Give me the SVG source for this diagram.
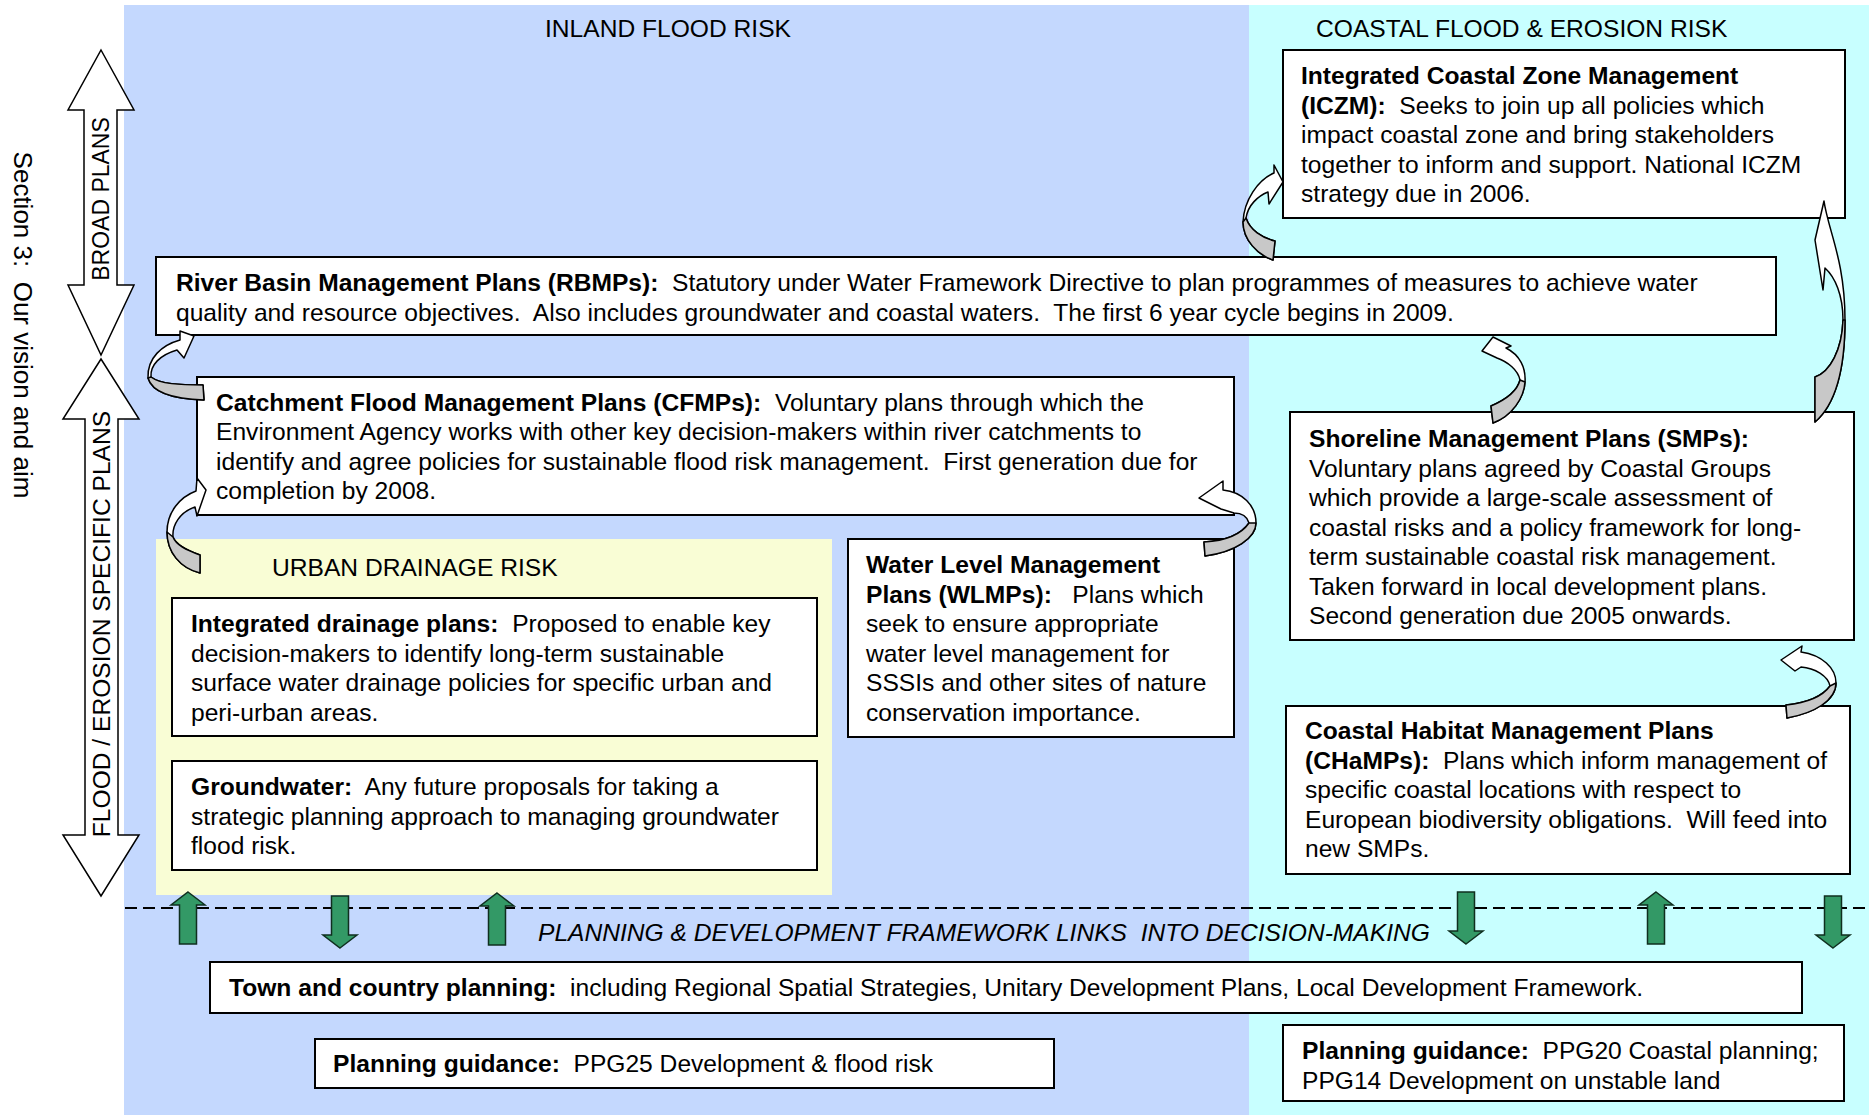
<svg xmlns="http://www.w3.org/2000/svg" width="1869" height="1115" viewBox="0 0 1869 1115">
<style>
.t { font-family: "Liberation Sans", Arial, sans-serif; font-size: 24.6px; fill: #000; white-space: pre; }
.b { font-weight: bold; }
.i { font-style: italic; }
.box { fill: #fff; stroke: #000; stroke-width: 2; }
.big { fill: #fff; stroke: #000; stroke-width: 1.5; stroke-linejoin: miter; }
.carw { fill: #fff; stroke: #000; stroke-width: 1.5; stroke-linejoin: round; }
.cgray { fill: #c8c8c8; stroke: #000; stroke-width: 1.5; stroke-linejoin: round; }
.garw { fill: #339966; stroke: #0f2f1f; stroke-width: 1.5; }
.dash { stroke: #000; stroke-width: 2; stroke-dasharray: 12 6; fill: none; }
</style>
<defs>
<path id="gup" d="M0,0 L17,13 L8.5,13 L8.5,52 L-8.5,52 L-8.5,13 L-17,13 Z"/>
<path id="gdown" d="M0,0 L17,-13 L8.5,-13 L8.5,-52 L-8.5,-52 L-8.5,-13 L-17,-13 Z"/>
</defs>
<rect x="0" y="0" width="1869" height="1115" fill="#fff"/>
<g id="regions">
<rect x="124" y="5" width="1125" height="1110" fill="#c4d8fe"/>
<rect x="1249" y="5" width="620" height="1110" fill="#c8ffff"/>
<rect x="156" y="539" width="676" height="356" fill="#f9fdd5"/>
<text class="t" x="545" y="37" xml:space="preserve">INLAND FLOOD RISK</text>
<text class="t" x="1316" y="37" xml:space="preserve">COASTAL FLOOD &amp; EROSION RISK</text>
<text class="t" x="272" y="576" xml:space="preserve">URBAN DRAINAGE RISK</text>
</g>
<g id="side">
<text class="t" style="font-size:26px" text-anchor="middle" transform="translate(23,325) rotate(90)" y="9" xml:space="preserve">Section 3:  Our vision and aim</text>
<path class="big" d="M101,50 L134,110 L117,110 L117,285 L134,285 L101,355 L68,285 L84,285 L84,110 L68,110 Z"/>
<text class="t" style="font-size:23px" text-anchor="middle" transform="translate(101,199) rotate(-90)" y="8" xml:space="preserve">BROAD PLANS</text>
<path class="big" d="M101,359 L139,419 L118,419 L118,835 L139,835 L101,896 L63,835 L85,835 L85,419 L63,419 Z"/>
<text class="t" text-anchor="middle" transform="translate(101,624) rotate(-90)" y="9" xml:space="preserve">FLOOD / EROSION SPECIFIC PLANS</text>
</g>
<g id="iczm">
<rect class="box" x="1283" y="50" width="562" height="168"/>
<text class="t b" x="1301" y="84" xml:space="preserve">Integrated Coastal Zone Management</text>
<text class="t" x="1301" y="113.5" xml:space="preserve"><tspan class="b">(ICZM):</tspan>  Seeks to join up all policies which</text>
<text class="t" x="1301" y="143" xml:space="preserve">impact coastal zone and bring stakeholders</text>
<text class="t" x="1301" y="172.5" xml:space="preserve">together to inform and support. National ICZM</text>
<text class="t" x="1301" y="202" xml:space="preserve">strategy due in 2006.</text>
</g>
<g id="rbmp">
<rect class="box" x="156" y="257" width="1620" height="78"/>
<text class="t" x="176" y="291" xml:space="preserve"><tspan class="b">River Basin Management Plans (RBMPs):</tspan>  Statutory under Water Framework Directive to plan programmes of measures to achieve water</text>
<text class="t" x="176" y="320.5" xml:space="preserve">quality and resource objectives.  Also includes groundwater and coastal waters.  The first 6 year cycle begins in 2009.</text>
</g>
<g id="cfmp">
<rect class="box" x="197" y="377" width="1037" height="138"/>
<text class="t" x="216" y="410.5" xml:space="preserve"><tspan class="b">Catchment Flood Management Plans (CFMPs):</tspan>  Voluntary plans through which the</text>
<text class="t" x="216" y="440" xml:space="preserve">Environment Agency works with other key decision-makers within river catchments to</text>
<text class="t" x="216" y="469.5" xml:space="preserve">identify and agree policies for sustainable flood risk management.  First generation due for</text>
<text class="t" x="216" y="499" xml:space="preserve">completion by 2008.</text>
</g>
<g id="idp">
<rect class="box" x="172" y="598" width="645" height="138"/>
<text class="t" x="191" y="632" xml:space="preserve"><tspan class="b">Integrated drainage plans:</tspan>  Proposed to enable key</text>
<text class="t" x="191" y="661.5" xml:space="preserve">decision-makers to identify long-term sustainable</text>
<text class="t" x="191" y="691" xml:space="preserve">surface water drainage policies for specific urban and</text>
<text class="t" x="191" y="720.5" xml:space="preserve">peri-urban areas.</text>
</g>
<g id="groundwater">
<rect class="box" x="172" y="761" width="645" height="109"/>
<text class="t" x="191" y="795" xml:space="preserve"><tspan class="b">Groundwater:</tspan>  Any future proposals for taking a</text>
<text class="t" x="191" y="824.5" xml:space="preserve">strategic planning approach to managing groundwater</text>
<text class="t" x="191" y="854" xml:space="preserve">flood risk.</text>
</g>
<g id="wlmp">
<rect class="box" x="848" y="539" width="386" height="198"/>
<text class="t b" x="866" y="573" xml:space="preserve">Water Level Management</text>
<text class="t" x="866" y="602.5" xml:space="preserve"><tspan class="b">Plans (WLMPs):</tspan>   Plans which</text>
<text class="t" x="866" y="632" xml:space="preserve">seek to ensure appropriate</text>
<text class="t" x="866" y="661.5" xml:space="preserve">water level management for</text>
<text class="t" x="866" y="691" xml:space="preserve">SSSIs and other sites of nature</text>
<text class="t" x="866" y="720.5" xml:space="preserve">conservation importance.</text>
</g>
<g id="smp">
<rect class="box" x="1290" y="412" width="564" height="228"/>
<text class="t b" x="1309" y="447" xml:space="preserve">Shoreline Management Plans (SMPs):</text>
<text class="t" x="1309" y="476.5" xml:space="preserve">Voluntary plans agreed by Coastal Groups</text>
<text class="t" x="1309" y="506" xml:space="preserve">which provide a large-scale assessment of</text>
<text class="t" x="1309" y="535.5" xml:space="preserve">coastal risks and a policy framework for long-</text>
<text class="t" x="1309" y="565" xml:space="preserve">term sustainable coastal risk management.</text>
<text class="t" x="1309" y="594.5" xml:space="preserve">Taken forward in local development plans.</text>
<text class="t" x="1309" y="624" xml:space="preserve">Second generation due 2005 onwards.</text>
</g>
<g id="champs">
<rect class="box" x="1286" y="706" width="564" height="168"/>
<text class="t b" x="1305" y="739" xml:space="preserve">Coastal Habitat Management Plans</text>
<text class="t" x="1305" y="768.5" xml:space="preserve"><tspan class="b">(CHaMPs):</tspan>  Plans which inform management of</text>
<text class="t" x="1305" y="798" xml:space="preserve">specific coastal locations with respect to</text>
<text class="t" x="1305" y="827.5" xml:space="preserve">European biodiversity obligations.  Will feed into</text>
<text class="t" x="1305" y="857" xml:space="preserve">new SMPs.</text>
</g>
<g id="framework-label">
<text class="t i" x="538" y="941" xml:space="preserve">PLANNING &amp; DEVELOPMENT FRAMEWORK LINKS  INTO DECISION-MAKING</text>
</g>
<g id="town">
<rect class="box" x="210" y="962" width="1592" height="51"/>
<text class="t" x="229" y="996" xml:space="preserve"><tspan class="b">Town and country planning:</tspan>  including Regional Spatial Strategies, Unitary Development Plans, Local Development Framework.</text>
</g>
<g id="pg-inland">
<rect class="box" x="315" y="1039" width="739" height="49"/>
<text class="t" x="333" y="1072" xml:space="preserve"><tspan class="b">Planning guidance:</tspan>  PPG25 Development &amp; flood risk</text>
</g>
<g id="pg-coastal">
<rect class="box" x="1283" y="1025" width="561" height="76"/>
<text class="t" x="1302" y="1059" xml:space="preserve"><tspan class="b">Planning guidance:</tspan>  PPG20 Coastal planning;</text>
<text class="t" x="1302" y="1088.5" xml:space="preserve">PPG14 Development on unstable land</text>
</g>
<g id="connectors">
<line class="dash" x1="125" y1="908" x2="1869" y2="908"/>
<use href="#gup" class="garw" x="188" y="892"/>
<use href="#gup" class="garw" x="497" y="893"/>
<use href="#gup" class="garw" x="1656" y="892"/>
<use href="#gdown" class="garw" x="340" y="948"/>
<use href="#gdown" class="garw" x="1466" y="944"/>
<use href="#gdown" class="garw" x="1833" y="948"/>
<path class="carw" d="M194,336 L180,331 L180,340 C162,345 147,358 148,378 C152,392 172,399 204,400 L203,385 C180,385 160,384 151,377 C150,365 160,355 177,350 L184,358 Z"/>
<path class="cgray" d="M148,378 C152,392 172,399 204,400 L203,385 C180,385 160,384 151,377 Z"/>
<path class="carw" d="M206,490 L197,478 L196,491 C180,497 167,512 167,532 C167,552 180,568 200,573 L200,555 C186,550 176,545 173,537 C172,525 180,512 195,507 L197,516 Z"/>
<path class="cgray" d="M167,532 C167,552 180,568 200,573 L200,555 C186,550 176,545 173,537 Z"/>
<path class="carw" d="M1283,182 L1274,165 L1274,173 C1258,180 1244,200 1243,222 C1243,240 1258,255 1273,260 L1275,241 C1262,238 1250,230 1246,218 C1248,205 1258,196 1268,192 L1269,204 Z"/>
<path class="cgray" d="M1243,222 C1243,240 1258,255 1273,260 L1275,241 C1262,238 1250,230 1246,218 Z"/>
<path class="carw" d="M1493,337 L1511,346 L1506,348 C1520,355 1526,368 1525,382 C1524,398 1512,416 1493,423 L1491,406 C1505,400 1517,392 1520,380 C1518,370 1508,362 1497,358 L1482,351 Z"/>
<path class="cgray" d="M1525,382 C1524,398 1512,416 1493,423 L1491,406 C1505,400 1517,392 1520,380 Z"/>
<path class="carw" d="M1824,201 C1828,230 1845,260 1845,320 C1845,370 1835,405 1815,422 L1815,377 C1830,372 1842,350 1843,320 C1843,295 1835,277 1825,268 L1823,290 L1815,240 Z"/>
<path class="cgray" d="M1845,320 C1845,370 1835,405 1815,422 L1815,377 C1830,372 1842,350 1843,320 Z"/>
<path class="carw" d="M1199,498 L1223,481 L1223,490 C1242,492 1256,505 1256,523 C1256,538 1235,552 1205,556 L1204,542 C1222,541 1240,536 1249,523 C1247,516 1242,513 1234,513 L1221,509 Z"/>
<path class="cgray" d="M1256,523 C1256,538 1235,552 1205,556 L1204,542 C1222,541 1240,536 1249,523 Z"/>
<path class="carw" d="M1781,660 L1802,646 L1801,652 C1822,655 1836,668 1836,683 C1836,700 1815,713 1787,718 L1786,705 C1805,703 1822,697 1830,686 C1828,676 1815,668 1801,667 L1795,671 Z"/>
<path class="cgray" d="M1836,683 C1836,700 1815,713 1787,718 L1786,705 C1805,703 1822,697 1830,686 Z"/>
</g>
</svg>
